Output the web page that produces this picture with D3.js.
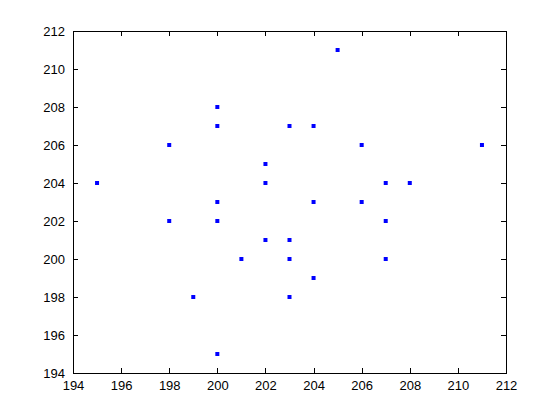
<!DOCTYPE html>
<html>
<head>
<meta charset="utf-8">
<script src="https://cdn.jsdelivr.net/npm/d3@7"></script>
<style>
body { margin: 0; background: #fff; }
svg text { font-family: "Liberation Sans", Arial, sans-serif; font-size: 13px; fill: #000; }
</style>
</head>
<body>
<svg width="560" height="420"></svg>
<script>
var xVals = [195, 198, 198, 199, 200, 200, 200, 200, 200, 201, 202, 202, 202, 203,
             203, 203, 203, 204, 204, 204, 205, 206, 206, 207, 207, 207, 208, 211];
var yVals = [204, 206, 202, 198, 208, 207, 203, 202, 195, 200, 205, 204, 201, 207,
             201, 200, 198, 207, 203, 199, 211, 206, 203, 204, 202, 200, 204, 206];
var xTicks = [194, 196, 198, 200, 202, 204, 206, 208, 210, 212];
var yTicks = [194, 196, 198, 200, 202, 204, 206, 208, 210, 212];

var svg = d3.select("svg");
// plot box (MATLAB default axes position)
var pLeft = 73, pRight = 506, pTop = 31, pBottom = 373;

var x = d3.scaleLinear().domain([194, 212]).range([pLeft, pRight]);
var y = d3.scaleLinear().domain([194, 212]).range([pBottom, pTop]);

var pts = xVals.map(function(v, i) { return [v, yVals[i]]; });

svg.append("g").selectAll("rect")
  .data(pts).enter()
  .append("rect")
  .attr("x", function(d) { return x(d[0]) - 2; })
  .attr("y", function(d) { return y(d[1]) - 2; })
  .attr("width", 4).attr("height", 4)
  .attr("fill", "#0000ff");

function axis(g) {
  g.selectAll(".domain").remove();
  g.selectAll("line").attr("stroke", "#000").attr("shape-rendering", "crispEdges");
  g.selectAll("text").attr("font-size", null).attr("font-family", null);
}

// bottom and top
svg.append("g").attr("transform", "translate(0," + pBottom + ")")
  .call(d3.axisBottom(x).tickValues(xTicks).tickSize(-5).tickPadding(8).tickFormat(d3.format("d")))
  .call(axis);
svg.append("g").attr("transform", "translate(0," + pTop + ")")
  .call(d3.axisTop(x).tickValues(xTicks).tickSize(-5).tickFormat(""))
  .call(axis);
// left and right
svg.append("g").attr("transform", "translate(" + pLeft + ",0)")
  .call(d3.axisLeft(y).tickValues(yTicks).tickSize(-5).tickPadding(8).tickFormat(d3.format("d")))
  .call(axis);
svg.append("g").attr("transform", "translate(" + pRight + ",0)")
  .call(d3.axisRight(y).tickValues(yTicks).tickSize(-5).tickFormat(""))
  .call(axis);

svg.append("rect")
  .attr("x", pLeft).attr("y", pTop)
  .attr("width", pRight - pLeft).attr("height", pBottom - pTop)
  .attr("fill", "none").attr("stroke", "#000")
  .attr("shape-rendering", "crispEdges");
</script>
</body>
</html>
